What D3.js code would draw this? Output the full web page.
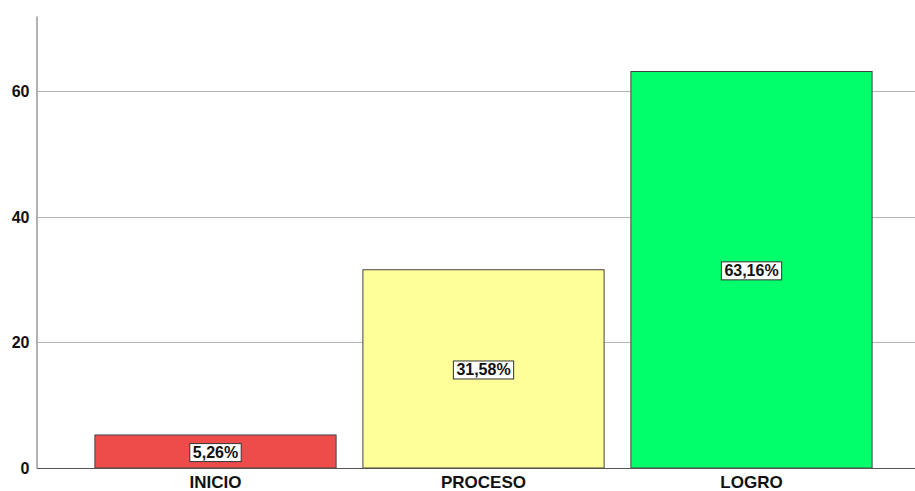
<!DOCTYPE html>
<html><head><meta charset="utf-8">
<script src="https://cdn.jsdelivr.net/npm/d3@7"></script>
<style>body{margin:0;background:#fff}svg{display:block}text{font-family:Arial,"Liberation Sans",sans-serif}</style>
</head><body><svg id="c" width="915" height="491"></svg>
<script>
const categories = ["INICIO", "PROCESO", "LOGRO"];
const values = [5.26, 31.58, 63.16];
const labels = ["5,26%", "31,58%", "63,16%"];
const colors = ["#EE4B4B", "#FFFF99", "#00FF6A"];
const yTicks = [0, 20, 40, 60];

const svg = d3.select("#c");
const y = d3.scaleLinear().domain([0, 72]).range([468, 16]);
const x = d3.scaleBand().domain(categories).range([81.5, 885.5]).paddingInner(0.1).paddingOuter(0.05);

// gridlines
svg.append("g").selectAll("line").data(yTicks.filter(d => d > 0)).join("line")
  .attr("x1", 37).attr("x2", 915)
  .attr("y1", d => Math.round(y(d)) + 0.5).attr("y2", d => Math.round(y(d)) + 0.5)
  .attr("stroke", "#b4b4b4").attr("stroke-width", 1);

// y axis
const ya = svg.append("g").attr("transform", "translate(36.5,0)")
  .call(d3.axisLeft(y).tickValues(yTicks).tickSize(0).tickPadding(7).tickFormat(d3.format("d")));
ya.select(".domain").attr("stroke", "#999").attr("stroke-width", 1.5);
ya.selectAll("text").attr("font-size", 16).attr("font-weight", "bold").attr("fill", "#111");

// bars
svg.append("g").selectAll("rect").data(categories).join("rect")
  .attr("x", d => x(d)).attr("width", x.bandwidth())
  .attr("y", (d, i) => y(values[i])).attr("height", (d, i) => y(0) - y(values[i]))
  .attr("fill", (d, i) => colors[i]).attr("stroke", "#444").attr("stroke-width", 1);

// baseline
svg.append("line").attr("x1", 37).attr("x2", 915).attr("y1", 468.5).attr("y2", 468.5)
  .attr("stroke", "#555").attr("stroke-width", 1.2);

// x axis labels
const xa = svg.append("g").attr("transform", "translate(0,468)")
  .call(d3.axisBottom(x).tickSize(0).tickPadding(8));
xa.select(".domain").remove();
xa.selectAll("text").attr("font-size", 17).attr("font-weight", "bold").attr("fill", "#111");

// value labels
const lg = svg.append("g").selectAll("g").data(categories).join("g")
  .attr("transform", (d, i) => `translate(${x(d) + x.bandwidth() / 2},${(y(values[i]) + y(0)) / 2 + 1})`);
lg.append("text").text((d, i) => labels[i])
  .attr("text-anchor", "middle").attr("dy", "0.35em")
  .attr("font-size", 16).attr("font-weight", "bold").attr("fill", "#111");
lg.each(function() {
  const g = d3.select(this);
  const b = g.select("text").node().getBBox();
  g.insert("rect", "text").attr("x", b.x - 3).attr("y", b.y - 0.5)
    .attr("width", b.width + 6).attr("height", b.height + 1)
    .attr("fill", "#fff").attr("stroke", "#333").attr("stroke-width", 1);
});
</script></body></html>
